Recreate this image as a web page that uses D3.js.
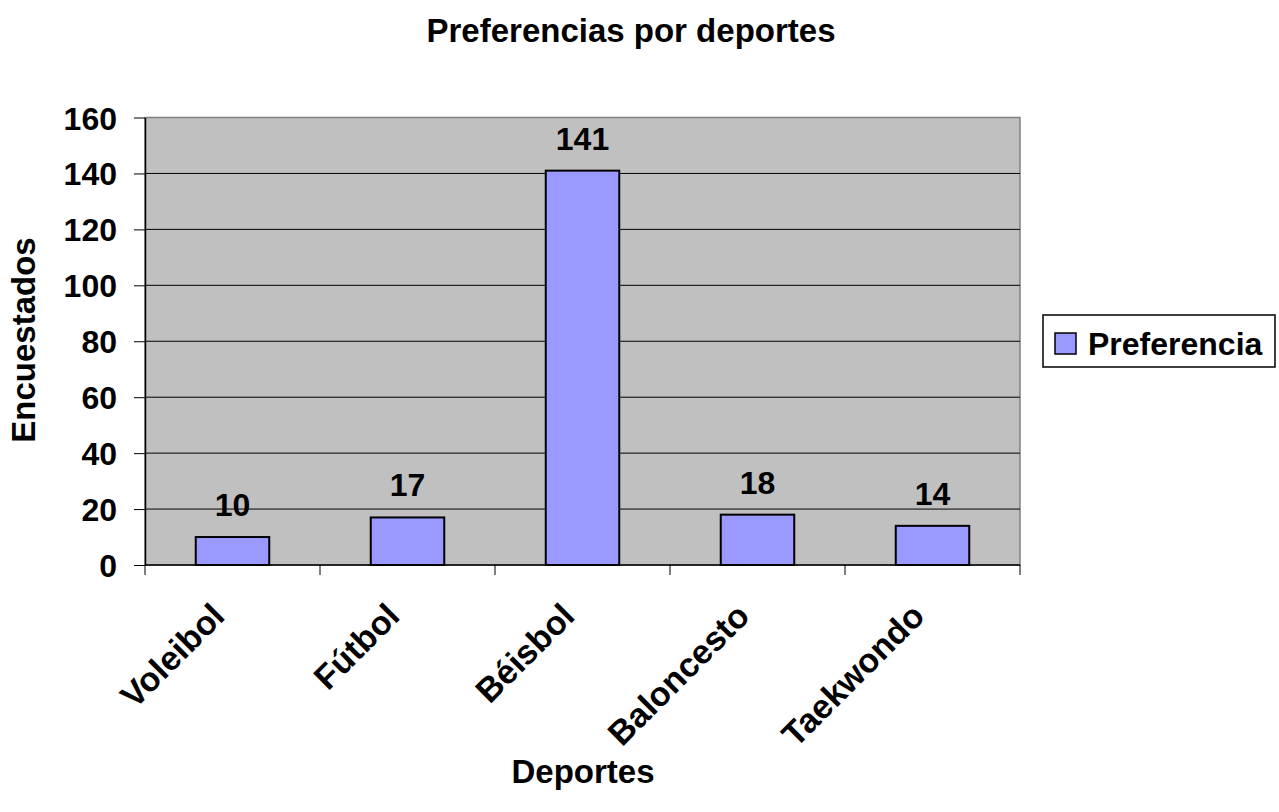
<!DOCTYPE html>
<html>
<head>
<meta charset="utf-8">
<script src="https://cdn.jsdelivr.net/npm/d3@7"></script>
<style>
  body { margin: 0; background: #fff; }
  text { font-family: "Liberation Sans", Arial, sans-serif; font-weight: bold; fill: #000; }
</style>
</head>
<body>
<svg id="chart" width="1279" height="812"></svg>
<script>
const categories = ["Voleibol", "Fútbol", "Béisbol", "Baloncesto", "Taekwondo"];
const values = [10, 17, 141, 18, 14];
const y_ticks = [0, 20, 40, 60, 80, 100, 120, 140, 160];
const series_name = "Preferencia";

const svg = d3.select("#chart");

const plot = { left: 145, right: 1020, top: 117.5, bottom: 565 };

const x = d3
	.scaleBand()
	.domain(categories)
	.range([plot.left, plot.right])
	.padding(0);

const y = d3.scaleLinear().domain([0, 160]).range([plot.bottom, plot.top]);

const bar_w = x.bandwidth() * 0.42;

// plot background
svg
	.append("rect")
	.attr("x", plot.left)
	.attr("y", plot.top)
	.attr("width", plot.right - plot.left)
	.attr("height", plot.bottom - plot.top)
	.attr("fill", "#c0c0c0")
	.attr("stroke", "#808080")
	.attr("stroke-width", 1.5);

// grid lines
svg
	.append("g")
	.selectAll("line")
	.data(y_ticks.filter((d) => d > 0 && d < 160))
	.join("line")
	.attr("x1", plot.left)
	.attr("x2", plot.right)
	.attr("y1", (d) => y(d))
	.attr("y2", (d) => y(d))
	.attr("stroke", "#000")
	.attr("stroke-width", 1);

// bars
svg
	.append("g")
	.selectAll("rect")
	.data(values)
	.join("rect")
	.attr("x", (d, i) => x(categories[i]) + (x.bandwidth() - bar_w) / 2)
	.attr("y", (d) => y(d))
	.attr("width", bar_w)
	.attr("height", (d) => y(0) - y(d))
	.attr("fill", "#9999ff")
	.attr("stroke", "#000")
	.attr("stroke-width", 2);

// value labels
svg
	.append("g")
	.selectAll("text")
	.data(values)
	.join("text")
	.attr("x", (d, i) => x(categories[i]) + x.bandwidth() / 2)
	.attr("y", (d) => y(d) - 21)
	.attr("text-anchor", "middle")
	.attr("font-size", 32)
	.text((d) => d);

// y axis
const y_axis = svg
	.append("g")
	.attr("transform", `translate(${plot.left},0)`)
	.call(d3.axisLeft(y).tickValues(y_ticks).tickSize(11).tickPadding(17).tickSizeOuter(0));
y_axis.select(".domain").attr("stroke", "#000").attr("stroke-width", 1.5);
y_axis.selectAll(".tick line").attr("stroke", "#000");
y_axis
	.selectAll(".tick text")
	.attr("font-size", 32)
	.attr("font-family", "Liberation Sans, Arial, sans-serif")
	.attr("font-weight", "bold")
	.attr("dy", "0.36em");

// x axis line and ticks at band edges
svg
	.append("line")
	.attr("x1", plot.left)
	.attr("x2", plot.right)
	.attr("y1", plot.bottom)
	.attr("y2", plot.bottom)
	.attr("stroke", "#000")
	.attr("stroke-width", 1.5);

const edges = categories.map((c) => x(c)).concat([plot.right]);
svg
	.append("g")
	.selectAll("line")
	.data(edges)
	.join("line")
	.attr("x1", (d) => d)
	.attr("x2", (d) => d)
	.attr("y1", plot.bottom)
	.attr("y2", plot.bottom + 10)
	.attr("stroke", "#000");

// category labels
svg
	.append("g")
	.selectAll("text")
	.data(categories)
	.join("text")
	.attr("font-size", 34)
	.attr("text-anchor", "end")
	.attr(
		"transform",
		(d) => `translate(${x(d) + x.bandwidth() / 2 - 6},${plot.bottom + 53}) rotate(-45)`
	)
	.text((d) => d);

// titles
svg
	.append("text")
	.attr("x", 631)
	.attr("y", 42)
	.attr("text-anchor", "middle")
	.attr("font-size", 33)
	.text("Preferencias por deportes");

svg
	.append("text")
	.attr("x", 583)
	.attr("y", 783)
	.attr("text-anchor", "middle")
	.attr("font-size", 33)
	.text("Deportes");

svg
	.append("text")
	.attr("transform", `translate(35,340) rotate(-90)`)
	.attr("text-anchor", "middle")
	.attr("font-size", 33)
	.text("Encuestados");

// legend
const legend = svg.append("g").attr("transform", "translate(1043,315)");
legend
	.append("rect")
	.attr("width", 232)
	.attr("height", 52)
	.attr("fill", "#fff")
	.attr("stroke", "#000")
	.attr("stroke-width", 1.5);
legend
	.append("rect")
	.attr("x", 12)
	.attr("y", 18)
	.attr("width", 21)
	.attr("height", 21)
	.attr("fill", "#9999ff")
	.attr("stroke", "#000")
	.attr("stroke-width", 1.5);
legend
	.append("text")
	.attr("x", 45)
	.attr("y", 40)
	.attr("font-size", 32)
	.text(series_name);
</script>
</body>
</html>
